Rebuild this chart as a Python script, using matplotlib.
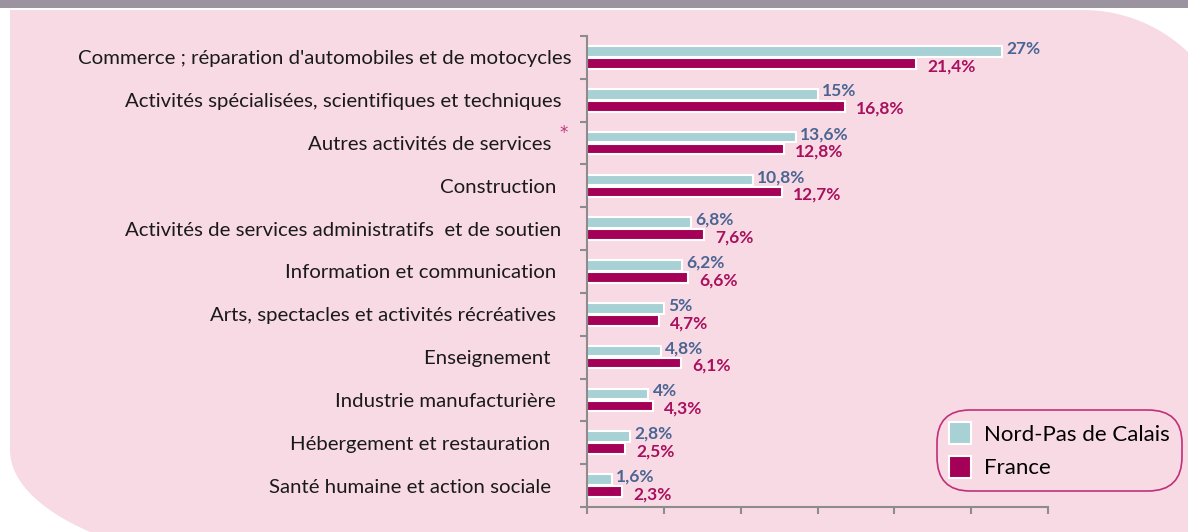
import numpy as np
import matplotlib.pyplot as plt
from matplotlib.patches import Rectangle, Polygon
from matplotlib.transforms import ScaledTranslation

# --- donnees ---
categories = [
    "Commerce ; réparation d'automobiles et de motocycles",
    "Activités spécialisées, scientifiques et techniques  ",
    "Autres activités de services",
    "Construction   ",
    "Activités de services administratifs  et de soutien  ",
    "Information et communication   ",
    "Arts, spectacles et activités récréatives   ",
    "Enseignement    ",
    "Industrie manufacturière   ",
    "Hébergement et restauration    ",
    "Santé humaine et action sociale    ",
]
npc = [27, 15, 13.6, 10.8, 6.8, 6.2, 5, 4.8, 4, 2.8, 1.6]
france = [21.4, 16.8, 12.8, 12.7, 7.6, 6.6, 4.7, 6.1, 4.3, 2.5, 2.3]
series_names = ["Nord-Pas de Calais", "France"]

PINK = "#F8DAE4"
C_NPC = "#A8D1D6"
C_FR = "#A50057"
T_NPC = "#4B6593"
T_FR = "#A8105E"
GRIS = "#8C8C8C"

W, H = 1188, 532
fig = plt.figure(figsize=(W / 100, H / 100), dpi=100)
fig.patch.set_facecolor("white")

# --- fond : bandeau gris + forme rose arrondie ---
bg = fig.add_axes([0, 0, 1, 1], zorder=-1)
bg.set_xlim(0, W)
bg.set_ylim(H, 0)
bg.axis("off")
bg.add_patch(Rectangle((0, 0), W, 7.5, color="#9B94A0", lw=0))
t1 = np.linspace(-np.pi / 2, 0, 60)
arc_tr = np.c_[1083 + 152 * np.cos(t1), 162 + 152 * np.sin(t1)]
t2 = np.linspace(np.pi / 2, np.pi, 60)
arc_bl = np.c_[310 + 300 * np.cos(t2), 450 + 120.6 * np.sin(t2)]
pts = np.vstack([[[10, 10]], arc_tr, [[1240, 600], [310, 600]], arc_bl, [[10, 10]]])
bg.add_patch(Polygon(pts, closed=True, color=PINK, lw=0))

# --- graphique ---
ax = fig.add_axes([587 / W, 1 - 507 / H, (1048 - 587) / W, (507 - 36) / H])
ax.set_facecolor("none")
y = np.arange(len(categories))
h = 0.25
b1 = ax.barh(y - 0.14, npc, height=h, color=C_NPC, edgecolor="white", linewidth=1.5)
b2 = ax.barh(y + 0.14, france, height=h, color=C_FR, edgecolor="white", linewidth=1.5)

fmt = lambda v: f"{v:g}".replace(".", ",") + "%"
for yi, v in zip(y, npc):
    ax.annotate(fmt(v), (v, yi - 0.14), xytext=(3, 2), textcoords="offset points",
                color=T_NPC, fontsize=12.5, fontweight="bold", family="Lato",
                va="center", ha="left")
for yi, v in zip(y, france):
    ax.annotate(fmt(v), (v, yi + 0.14), xytext=(8, -2), textcoords="offset points",
                color=T_FR, fontsize=12.5, fontweight="bold", family="Lato",
                va="center", ha="left")

ax.set_xlim(0, 30)
ax.set_ylim(len(categories) - 0.5, -0.5)
ax.set_xticks(np.arange(0, 31, 5))
ax.set_xticklabels([])
ax.tick_params(axis="x", length=5, width=1.5, color=GRIS, direction="out")

ax.set_yticks(y)
ax.set_yticklabels(categories, family="Lato", fontsize=14.7, color="#1a1a1a")
ax.set_yticks(np.arange(-0.5, len(categories), 1), minor=True)
ax.tick_params(axis="y", which="major", length=0, pad=11)
ax.tick_params(axis="y", which="minor", length=5, width=1.5, color=GRIS)

for s in ["top", "right"]:
    ax.spines[s].set_visible(False)
for s in ["left", "bottom"]:
    ax.spines[s].set_color(GRIS)
    ax.spines[s].set_linewidth(1.5)

# "Autres activités de services" decale pour laisser la place a l'asterisque
lbl = ax.get_yticklabels()[2]
lbl.set_transform(lbl.get_transform() + ScaledTranslation(-0.2, 0, fig.dpi_scale_trans))
ax.annotate("*", (0, 2), xycoords=("axes fraction", "data"), xytext=(-17, 7),
            textcoords="offset points", color="#C0307A", fontsize=12, ha="center", va="center")

leg = ax.legend([b1, b2], series_names, loc="upper left", bbox_to_anchor=(937 / W, 1 - 410 / H),
                bbox_transform=fig.transFigure, borderaxespad=0, prop={"family": "Lato", "size": 16},
                handlelength=1.0, handleheight=1.15, handletextpad=0.55, labelspacing=0.5,
                borderpad=0.55, frameon=True, fancybox=True)
fr = leg.get_frame()
fr.set_boxstyle("round,pad=0,rounding_size=1.5")
fr.set_facecolor(PINK)
fr.set_edgecolor("#C0307A")
fr.set_linewidth(1.2)
fr.set_alpha(1)

fig.savefig("out.png", dpi=100, facecolor=fig.get_facecolor())
